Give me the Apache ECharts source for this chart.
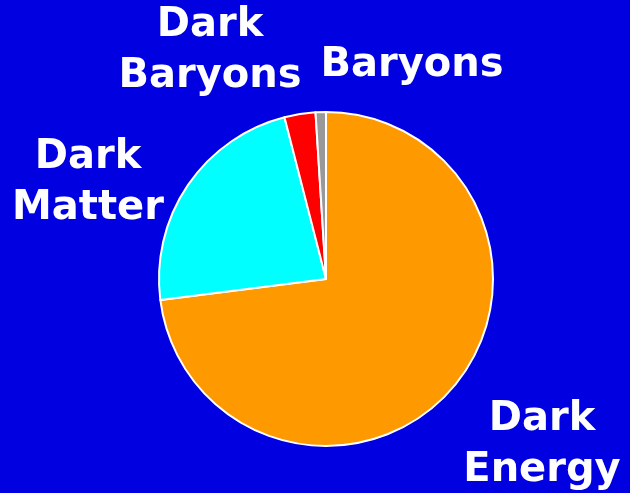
<!DOCTYPE html>
<html>
<head>
<meta charset="utf-8">
<script src="https://cdn.jsdelivr.net/npm/echarts@6/dist/echarts.min.js"></script>
<style>
html,body{margin:0;padding:0;background:#0000E0;}
#chart{width:630px;height:493px;}
</style>
</head>
<body>
<div id="chart"></div>
<script>
var categories = ['Dark\nEnergy', 'Dark\nMatter', 'Dark\nBaryons', 'Baryons'];
var values = [73, 23, 3, 1];
var colors = ['#FF9900', '#00FFFF', '#FF0000', '#999999'];

var labelSpots = [[542, 445], [88, 183], [210, 51], [412, 66]];

var chart = echarts.init(document.getElementById('chart'), null, {renderer: 'canvas'});
chart.setOption({
  backgroundColor: '#0000E0',
  animation: false,
  series: [{
    type: 'pie',
    center: [326, 279],
    radius: 167,
    startAngle: 90,
    clockwise: true,
    silent: true,
    itemStyle: {borderColor: '#FFFFFF', borderWidth: 2},
    labelLine: {show: false},
    label: {
      show: true,
      position: 'outside',
      formatter: '{b}',
      color: '#FFFFFF',
      fontFamily: 'DejaVu Sans',
      fontWeight: 'bold',
      fontSize: 40,
      lineHeight: 51,
      align: 'center',
      overflow: 'none',
      width: 300
    },
    labelLayout: function (p) {
      var s = labelSpots[p.dataIndex];
      return {x: s[0], y: s[1], align: 'center', verticalAlign: 'middle'};
    },
    data: categories.map(function (c, i) {
      return {name: c, value: values[i], itemStyle: {color: colors[i]}};
    })
  }]
});
</script>
</body>
</html>
